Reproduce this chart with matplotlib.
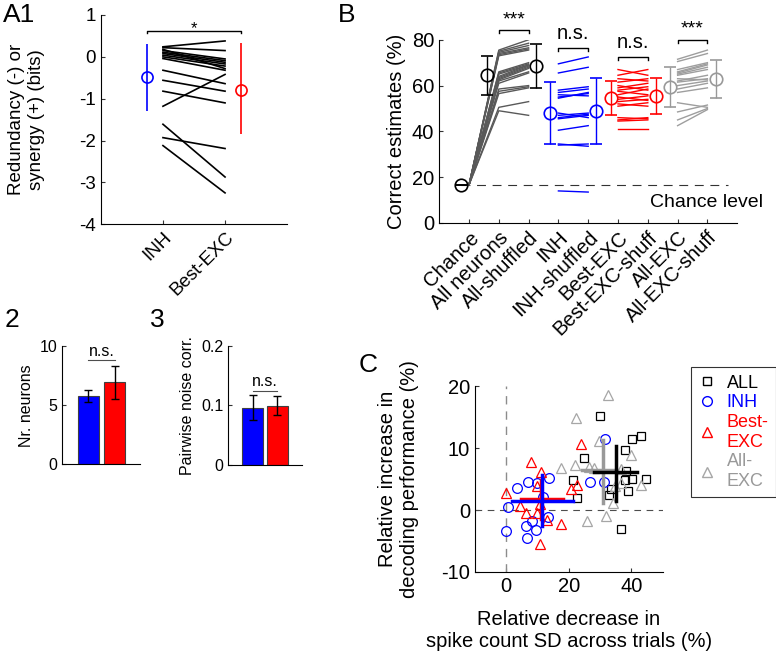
import matplotlib.pyplot as plt
from matplotlib.lines import Line2D

plt.rcParams['font.family'] = ['Liberation Sans', 'DejaVu Sans']
plt.rcParams['axes.linewidth'] = 0.8
plt.rcParams['axes.unicode_minus'] = False

# ---- Panel A1 : redundancy / synergy ----
a1_labels = ['INH', 'Best-EXC']
a1_inh = [0.24, 0.22, 0.18, 0.15, 0.11, 0.08, 0.04, 0.0, -0.04, -0.32, -0.56, -0.82,
          -1.18, -1.61, -1.93, -2.12]
a1_best = [0.38, 0.15, -0.28, -0.05, -0.09, -0.13, -0.17, -0.22, -0.32, -0.64, -0.82, -1.10,
           -0.42, -2.87, -2.19, -3.25]
a1_mean = [-0.48, -0.78]
a1_lo = [-1.29, -1.85]
a1_hi = [0.30, 0.32]
a1_col = ['blue', 'red']

# ---- Panel 2 / 3 : bars ----
p2_vals = [5.75, 6.95]
p2_lo = [5.28, 5.56]
p2_hi = [6.33, 8.33]
p3_vals = [0.096, 0.099]
p3_lo = [0.076, 0.083]
p3_hi = [0.118, 0.115]

# ---- Panel B : correct estimates ----
b_labels = ['Chance', 'All neurons', 'All-shuffled', 'INH', 'INH-shuffled', 'Best-EXC',
            'Best-EXC-shuff', 'All-EXC', 'All-EXC-shuff']
b_mean = [16.67, 64.4, 68.4, 48.0, 48.7, 54.5, 55.6, 59.3, 63.0]
b_lo = [16.67, 56.0, 58.9, 34.6, 34.6, 47.0, 47.6, 50.6, 54.5]
b_hi = [16.67, 72.7, 78.1, 61.5, 63.3, 62.1, 63.3, 67.9, 71.3]
chance = 100 / 6

all_orig = [75.5, 75.0, 74.5, 74.0, 73.5, 73.0, 66.0, 65.5, 65.0, 64.0, 63.5, 63.0, 62.5,
            62.0, 61.0, 58.5, 57.5, 56.5, 50.5, 49.0]
all_shuf = [80.0, 78.5, 77.5, 76.5, 76.0, 75.5, 70.0, 69.5, 69.0, 69.0, 68.5, 68.0, 67.5,
            66.0, 65.5, 60.0, 59.5, 59.0, 53.0, 47.0]
inh_orig = [69.5, 65.5, 58.0, 57.0, 56.0, 55.0, 54.5, 48.0, 47.0, 46.0, 45.5, 40.5, 34.0,
            34.5, 14.0]
inh_shuf = [72.5, 68.0, 59.5, 58.5, 55.5, 56.5, 57.0, 46.0, 48.0, 47.5, 47.0, 42.5, 34.5,
            33.5, 13.5]
best_orig = [67.0, 64.5, 63.0, 61.5, 60.0, 59.0, 58.0, 57.5, 56.0, 55.0, 54.0, 53.0, 52.0,
             51.0, 46.0, 45.0, 44.5, 41.0]
best_shuf = [64.5, 67.0, 62.0, 63.0, 58.0, 61.0, 59.5, 56.0, 58.5, 53.5, 55.5, 54.0, 51.0,
             52.5, 45.5, 46.0, 45.0, 41.0]
exc_orig = [71.5, 70.5, 67.0, 66.0, 65.5, 65.0, 64.5, 63.0, 62.0, 61.5, 60.0, 58.5, 57.0,
            52.5, 48.5, 45.0, 42.5]
exc_shuf = [75.5, 74.0, 70.0, 69.5, 69.0, 68.0, 67.0, 62.5, 64.5, 63.0, 62.0, 61.0, 59.0,
            50.5, 51.5, 50.0, 49.5]

# ---- Panel C : scatter ----
all_x = [30.0, 25.0, 21.3, 22.6, 38.0, 40.1, 43.2, 38.3, 37.9, 40.2, 44.7, 39.0, 32.7, 33.4, 36.6]
all_y = [15.2, 8.4, 4.8, 2.0, 9.7, 11.5, 12.0, 6.3, 4.9, 5.0, 5.0, 3.1, 2.5, 3.4, -3.1]
inh_x = [0.6, 0.0, 3.6, 7.1, 9.9, 13.8, 11.7, 13.3, 6.2, 6.8, 8.3, 9.4, 26.7, 31.6, 31.3]
inh_y = [0.5, -3.4, 3.6, 4.6, 4.3, 5.2, 2.1, -1.1, -2.5, -4.5, -1.8, -3.3, 4.6, 11.5, 4.5]
bexc_x = [-0.2, 4.4, 6.2, 7.8, 9.7, 11.0, 10.8, 9.9, 13.1, 10.9, 17.4, 20.6, 22.7, 23.9]
bexc_y = [2.8, 0.6, -0.5, 7.7, 3.9, 6.1, 1.0, -0.5, -1.6, -5.5, -2.2, 3.4, 4.1, 10.6]
aexc_x = [32.6, 22.4, 17.4, 22.0, 26.5, 28.1, 29.7, 39.8, 36.8, 36.6, 43.0, 34.1, 25.9, 31.9, 34.8]
aexc_y = [18.5, 14.8, 6.8, 7.2, 6.9, 6.8, 11.1, 8.9, 6.7, 4.3, 4.1, 1.2, -1.7, -1.0, 3.9]
# mean crosses: (x centre, x low, x high, y centre, y low, y high)
cross_red = (11.2, 4.8, 18.2, 1.8, -1.5, 4.8)
cross_blue = (11.5, 1.9, 21.4, 1.5, -2.6, 5.7)
cross_gray = (30.9, 24.3, 35.5, 6.4, 1.1, 11.3)
cross_black = (35.0, 28.1, 41.9, 6.1, 1.5, 10.4)

GRAY_D = '0.35'
GRAY_L = '0.62'


def style(ax, fs):
    ax.spines['top'].set_visible(False)
    ax.spines['right'].set_visible(False)
    ax.tick_params(direction='in', length=3, labelsize=fs, color='0.2')


def bracket(ax, x0, x1, y, h, col='k'):
    ax.plot([x0, x0, x1, x1], [y - h, y, y, y - h], color=col, lw=1, clip_on=False)


fig = plt.figure(figsize=(7.76, 6.52), dpi=100)

# ================= A1 =================
ax = fig.add_axes([0.130, 0.656, 0.240, 0.321])
for l, r in zip(a1_inh, a1_best):
    ax.plot([1, 2], [l, r], color='k', lw=1.2)
for i, px in enumerate([0.75, 2.25]):
    ax.errorbar(px, a1_mean[i], yerr=[[a1_mean[i] - a1_lo[i]], [a1_hi[i] - a1_mean[i]]],
                fmt='o', color=a1_col[i], mfc='none', ms=8, mew=1.2, lw=1.2, capsize=0)
bracket(ax, 0.75, 2.25, 0.62, 0.04)
ax.text(1.5, 0.56, '*', ha='center', va='baseline', fontsize=12)
ax.set_xlim(0, 3)
ax.set_ylim(-4, 1)
ax.set_yticks([1, 0, -1, -2, -3, -4])
ax.set_xticks([1, 2])
ax.set_xticklabels(a1_labels, rotation=45, ha='right', rotation_mode='anchor')
ax.set_ylabel('Redundancy (-) or\nsynergy (+) (bits)', fontsize=13.5)
ax.yaxis.set_label_coords(-0.30, 0.5)
style(ax, 13.5)

# ================= panel 2 =================
ax = fig.add_axes([0.080, 0.288, 0.1005, 0.181])
ax.bar([1, 2], p2_vals, width=0.8, color=['blue', 'red'], edgecolor='0.25', lw=0.8)
ax.errorbar([1, 2], p2_vals, yerr=[[v - lo for v, lo in zip(p2_vals, p2_lo)],
                                   [hi - v for v, hi in zip(p2_vals, p2_hi)]],
            fmt='none', ecolor='k', capsize=3, lw=1)
ax.plot([1, 2], [8.8, 8.8], color='0.3', lw=0.8)
ax.text(1.5, 9.2, 'n.s.', ha='center', va='baseline', fontsize=11.5)
ax.set_xlim(0.02, 2.95)
ax.set_ylim(0, 10)
ax.set_yticks([0, 5, 10])
ax.set_xticks([])
ax.set_ylabel('Nr. neurons', fontsize=11.5)
style(ax, 11.5)

# ================= panel 3 =================
ax = fig.add_axes([0.294, 0.287, 0.0954, 0.1825])
ax.bar([1, 2], p3_vals, width=0.85, color=['blue', 'red'], edgecolor='0.25', lw=0.8)
ax.errorbar([1, 2], p3_vals, yerr=[[v - lo for v, lo in zip(p3_vals, p3_lo)],
                                   [hi - v for v, hi in zip(p3_vals, p3_hi)]],
            fmt='none', ecolor='k', capsize=3, lw=1)
ax.plot([1, 2], [0.125, 0.125], color='0.3', lw=0.8)
ax.text(1.5, 0.133, 'n.s.', ha='center', va='baseline', fontsize=11.5)
ax.set_xlim(0, 3)
ax.set_ylim(0, 0.2)
ax.set_yticks([0, 0.1, 0.2])
ax.set_yticklabels(['0', '0.1', '0.2'])
ax.set_xticks([])
ax.set_ylabel('Pairwise noise corr.', fontsize=11.5)
style(ax, 11.5)

# ================= B =================
ax = fig.add_axes([0.566, 0.658, 0.384, 0.281])
ax.plot([0.72, 9.7], [chance, chance], color='0.2', lw=0.8, dashes=(8, 6))
for l, r in zip(all_orig, all_shuf):
    ax.plot([1, 2, 3], [chance, l, r], color=GRAY_D, lw=1)
for l, r in zip(inh_orig, inh_shuf):
    ax.plot([4, 5], [l, r], color='blue', lw=1)
for l, r in zip(best_orig, best_shuf):
    ax.plot([6, 7], [l, r], color='red', lw=1)
for l, r in zip(exc_orig, exc_shuf):
    ax.plot([8, 9], [l, r], color=GRAY_L, lw=1)

b_pos = [0.72, 1.61, 3.24, 3.72, 5.26, 5.75, 7.28, 7.76, 9.3]
b_col = ['k', 'k', 'k', 'blue', 'blue', 'red', 'red', '0.6', '0.6']
for i in range(len(b_labels)):
    err = [[b_mean[i] - b_lo[i]], [b_hi[i] - b_mean[i]]]
    ax.errorbar(b_pos[i], b_mean[i], yerr=err, fmt='o', color=b_col[i], mfc='none',
                ms=9, mew=1.2, lw=1, capsize=4, zorder=5, clip_on=False)

bracket(ax, 2, 3, 84.1, 1.2)
ax.text(2.5, 86.9, '***', ha='center', va='baseline', fontsize=14)
bracket(ax, 4, 5, 76.4, 1.2)
ax.text(4.5, 80.3, 'n.s.', ha='center', va='baseline', fontsize=14.5)
bracket(ax, 6, 7, 72.4, 1.2)
ax.text(6.5, 76.4, 'n.s.', ha='center', va='baseline', fontsize=14.5)
bracket(ax, 8, 9, 80.0, 1.2)
ax.text(8.5, 82.8, '***', ha='center', va='baseline', fontsize=14)
ax.text(10.85, 8.9, 'Chance level', ha='right', va='center', fontsize=14, clip_on=False)

ax.set_xlim(0, 10)
ax.set_ylim(0, 80)
ax.set_yticks([0, 20, 40, 60, 80])
ax.set_xticks(range(1, 10))
ax.set_xticklabels(b_labels, rotation=45, ha='right', rotation_mode='anchor')
ax.set_ylabel('Correct estimates (%)', fontsize=14.5)
style(ax, 14.5)

# ================= C =================
ax = fig.add_axes([0.612, 0.1227, 0.242, 0.285])
ax.axvline(0, color='0.55', lw=1, dashes=(6, 5))
ax.axhline(0, color='0.3', lw=0.8, dashes=(6, 5))
ax.plot(all_x, all_y, 's', mfc='none', mec='k', ms=6, mew=0.9, ls='none')
ax.plot(inh_x, inh_y, 'o', mfc='none', mec='blue', ms=7, mew=0.9, ls='none')
ax.plot(bexc_x, bexc_y, '^', mfc='none', mec='red', ms=7, mew=0.9, ls='none')
ax.plot(aexc_x, aexc_y, '^', mfc='none', mec='0.65', ms=7, mew=0.9, ls='none')
for cr, col in [(cross_red, 'red'), (cross_blue, 'blue'), (cross_gray, '0.6'),
                (cross_black, 'k')]:
    ax.plot([cr[1], cr[2]], [cr[3], cr[3]], color=col, lw=2.5)
    ax.plot([cr[0], cr[0]], [cr[4], cr[5]], color=col, lw=2.5)
ax.set_xlim(-10, 50)
ax.set_ylim(-10, 20)
ax.set_xticks([0, 20, 40])
ax.set_yticks([-10, 0, 10, 20])
ax.set_xlabel('Relative decrease in\nspike count SD across trials (%)', fontsize=14.5,
              labelpad=10)
ax.set_ylabel('Relative increase in\ndecoding performance (%)', fontsize=14.5)
ax.yaxis.set_label_coords(-0.30, 0.5)
style(ax, 14.5)

handles = [Line2D([], [], ls='none', marker='s', mfc='none', mec='k', ms=6),
           Line2D([], [], ls='none', marker='o', mfc='none', mec='blue', ms=7),
           Line2D([], [], ls='none', marker='^', mfc='none', mec='red', ms=7),
           Line2D([], [], ls='none', marker='^', mfc='none', mec='0.65', ms=7)]
leg = ax.legend(handles, ['ALL', 'INH', 'Best-\nEXC', 'All-\nEXC'], loc='upper left',
                bbox_to_anchor=(1.10, 1.15), frameon=True, fancybox=False, fontsize=13,
                handlelength=1.0, handletextpad=0.6, borderpad=0.4, labelspacing=0.15)
leg.get_frame().set_edgecolor('k')
leg.get_frame().set_linewidth(0.8)
for t, c in zip(leg.get_texts(), ['k', 'blue', 'red', '0.6']):
    t.set_color(c)

# panel letters
fig.text(0.004, 0.995, 'A1', fontsize=19, va='top')
fig.text(0.006, 0.528, '2', fontsize=19, va='top')
fig.text(0.193, 0.528, '3', fontsize=19, va='top')
fig.text(0.436, 0.995, 'B', fontsize=19, va='top')
fig.text(0.462, 0.458, 'C', fontsize=19, va='top')

fig.savefig('out.png', dpi=100)
